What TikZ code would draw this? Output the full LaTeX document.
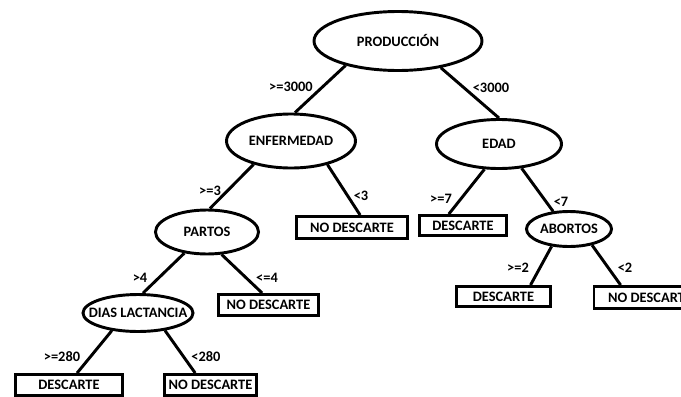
\documentclass[tikz,border=0pt]{standalone}
\usepackage{fontspec}
\setmainfont{Carlito}
\usepackage{tikz}
\usetikzlibrary{shapes.geometric}

\begin{document}
\begin{tikzpicture}[x=0.75pt, y=-0.75pt, font=\fontsize{10.8}{13}\selectfont\bfseries,
		nodo/.style={draw, ellipse, line width=2.2pt, inner sep=0pt},
		hoja/.style={draw, rectangle, line width=2.2pt, inner sep=0pt},
		rama/.style={line width=2.2pt}]
	\useasboundingbox (0,0) rectangle (681,396);
	\clip (0,0) rectangle (681,396);
	
	% nodos de decision
	\node[nodo, minimum width=126pt, minimum height=44.25pt] (prod) at (398,41) {PRODUCCIÓN};
	\node[nodo, minimum width=96.75pt, minimum height=40.5pt] (enf) at (291,141) {ENFERMEDAD};
	\node[nodo, minimum width=93.75pt, minimum height=36.75pt] (edad) at (499,144) {EDAD};
	\node[nodo, minimum width=63.75pt, minimum height=26.25pt] (abortos) at (569,229) {ABORTOS};
	\node[nodo, minimum width=77.25pt, minimum height=33pt] (partos) at (207,232) {PARTOS};
	\node[nodo, minimum width=82.5pt, minimum height=27.75pt] (dias) at (138,313) {\makebox[40pt]{DIAS LACTANCIA}};
	
	% hojas
	\node[hoja, minimum width=83.25pt, minimum height=16.5pt] (nd1) at (352,227.5) {NO DESCARTE};
	\node[hoja, minimum width=65.25pt, minimum height=15pt] (desc1) at (463,225.5) {DESCARTE};
	\node[hoja, minimum width=70.5pt, minimum height=15pt] (desc2) at (503.5,296.5) {DESCARTE};
	\node[hoja, minimum width=84pt, minimum height=16.5pt] (nd3) at (650,297.5) {NO DESCARTE};
	\node[hoja, minimum width=75pt, minimum height=15.75pt] (nd2) at (268.5,305) {NO DESCARTE};
	\node[hoja, minimum width=80.25pt, minimum height=15.75pt] (desc3) at (69,385) {DESCARTE};
	\node[hoja, minimum width=69pt, minimum height=15.75pt] (nd4) at (210.5,385) {NO DESCARTE};
	
	% ramas
	\draw[rama] (prod.205) -- (enf.82);
	\draw[rama] (prod.328) -- (edad.north);
	\draw[rama] (enf.212) -- (partos.83);
	\draw[rama] (enf.327) -- (nd1.57);
	\draw[rama] (edad.240) -- (desc1.141);
	\draw[rama] (edad.313) -- (abortos.132);
	\draw[rama] (abortos.225) -- (desc2.23);
	\draw[rama] (abortos.325) -- (nd3.157);
	\draw[rama] (partos.223) -- (dias.76);
	\draw[rama] (partos.303) -- (nd2.118);
	\draw[rama] (dias.214) -- (desc3.56);
	\draw[rama] (dias.327) -- (nd4.142);
	
	% condiciones
	\node (c1) at (291,87) {>=3000};
	\node (c2) at (491,88) {<3000};
	\node (c3) at (210,191) {>=3};
	\node (c4) at (361,196) {<3};
	\node (c5) at (441,199) {>=7};
	\node (c6) at (561,202) {<7};
	\node (c7) at (518,268) {>=2};
	\node (c8) at (625,268) {<2};
	\node (c9) at (140,278) {>4};
	\node (c10) at (267,278) {<=4};
	\node (c11) at (62,357) {>=280};
	\node (c12) at (206,357) {<280};
\end{tikzpicture}
\end{document}
